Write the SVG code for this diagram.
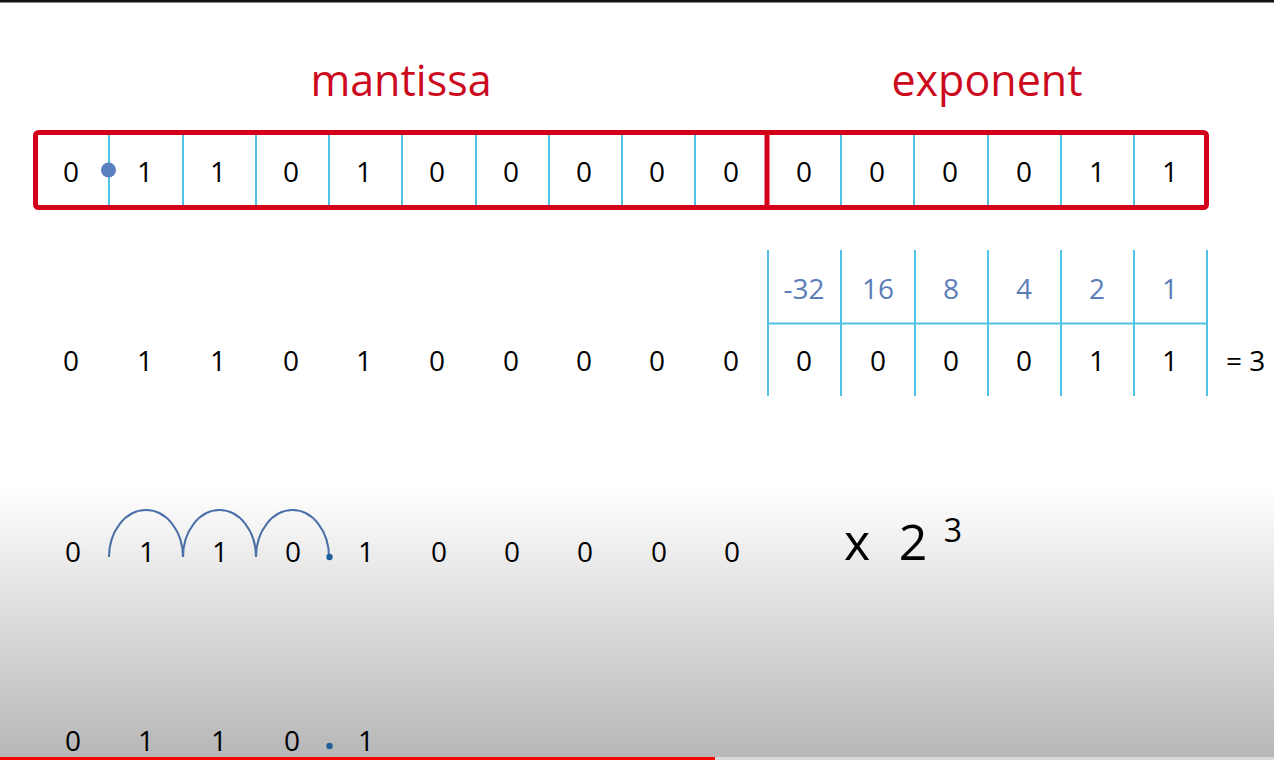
<svg xmlns="http://www.w3.org/2000/svg" width="1274" height="760" viewBox="0 0 1274 760">
<defs>
<linearGradient id="bg" x1="0" y1="0" x2="0" y2="760" gradientUnits="userSpaceOnUse">
<stop offset="0" stop-color="#ffffff"/>
<stop offset="0.64" stop-color="#ffffff"/>
<stop offset="0.79" stop-color="#e0e0e0"/>
<stop offset="1" stop-color="#b6b6b6"/>
</linearGradient>
<style>
.t{font-family:"Open Sans","Liberation Sans",sans-serif;font-size:28px;fill:#000;text-anchor:middle}
.lbl{font-family:"Open Sans","Liberation Sans",sans-serif;font-size:28px;fill:#5b7db8;text-anchor:middle}
.head{font-family:"Open Sans","Liberation Sans",sans-serif;font-size:43px;fill:#cc0a1e;text-anchor:middle}
.big{font-family:"Open Sans","Liberation Sans",sans-serif;fill:#000;text-anchor:middle}
.cell{stroke:#4fc3e6;stroke-width:2;fill:none}
.arc{stroke:#4a6fa8;stroke-width:2;fill:none}
</style>
</defs>
<rect x="0" y="0" width="1274" height="760" fill="url(#bg)"/>
<rect x="0" y="0" width="1274" height="2.5" fill="#111"/>

<g id="titles">
<text class="head" x="401" y="96">mantissa</text>
<text class="head" x="987" y="96">exponent</text>
</g>

<g id="register">
<g class="cell">
<line x1="109" y1="133" x2="109" y2="208"/>
<line x1="183" y1="133" x2="183" y2="208"/>
<line x1="256" y1="133" x2="256" y2="208"/>
<line x1="329" y1="133" x2="329" y2="208"/>
<line x1="402" y1="133" x2="402" y2="208"/>
<line x1="476" y1="133" x2="476" y2="208"/>
<line x1="549" y1="133" x2="549" y2="208"/>
<line x1="622" y1="133" x2="622" y2="208"/>
<line x1="695" y1="133" x2="695" y2="208"/>
<line x1="841" y1="133" x2="841" y2="208"/>
<line x1="914" y1="133" x2="914" y2="208"/>
<line x1="988" y1="133" x2="988" y2="208"/>
<line x1="1061" y1="133" x2="1061" y2="208"/>
<line x1="1134" y1="133" x2="1134" y2="208"/>
</g>
<rect x="35.5" y="132.5" width="1171" height="75" rx="3" fill="none" stroke="#d4001a" stroke-width="5"/>
<line x1="767" y1="132" x2="767" y2="208" stroke="#d4001a" stroke-width="5"/>
<circle cx="108.5" cy="170" r="7.5" fill="#5a80c0"/>
<g class="t">
<text x="71" y="182">0</text><text x="145" y="182">1</text><text x="218" y="182">1</text><text x="291" y="182">0</text><text x="364" y="182">1</text><text x="437" y="182">0</text><text x="511" y="182">0</text><text x="584" y="182">0</text><text x="657" y="182">0</text><text x="731" y="182">0</text>
<text x="804" y="182">0</text><text x="877" y="182">0</text><text x="950" y="182">0</text><text x="1024" y="182">0</text><text x="1097" y="182">1</text><text x="1170" y="182">1</text>
</g>
</g>

<g id="place-table">
<g class="cell">
<line x1="768" y1="250" x2="768" y2="396"/>
<line x1="841" y1="250" x2="841" y2="396"/>
<line x1="915" y1="250" x2="915" y2="396"/>
<line x1="988" y1="250" x2="988" y2="396"/>
<line x1="1061" y1="250" x2="1061" y2="396"/>
<line x1="1134" y1="250" x2="1134" y2="396"/>
<line x1="1207" y1="250" x2="1207" y2="396"/>
<line x1="768" y1="323.5" x2="1207" y2="323.5"/>
</g>
<g class="lbl">
<text x="804" y="299">-32</text><text x="878" y="299">16</text><text x="951" y="299">8</text><text x="1024" y="299">4</text><text x="1097" y="299">2</text><text x="1170" y="299">1</text>
</g>
<g class="t">
<text x="804" y="371">0</text><text x="878" y="371">0</text><text x="951" y="371">0</text><text x="1024" y="371">0</text><text x="1097" y="371">1</text><text x="1170" y="371">1</text>
<text x="1226" y="371" style="text-anchor:start">= 3</text>
</g>
</g>

<g id="row2" class="t">
<text x="71" y="371">0</text><text x="145" y="371">1</text><text x="218" y="371">1</text><text x="291" y="371">0</text><text x="364" y="371">1</text><text x="437" y="371">0</text><text x="511" y="371">0</text><text x="584" y="371">0</text><text x="657" y="371">0</text><text x="731" y="371">0</text>
</g>

<g id="row3">
<g class="t">
<text x="73" y="562">0</text><text x="147" y="562">1</text><text x="220" y="562">1</text><text x="293" y="562">0</text><text x="366" y="562">1</text><text x="439" y="562">0</text><text x="512" y="562">0</text><text x="585" y="562">0</text><text x="659" y="562">0</text><text x="732" y="562">0</text>
</g>
<g class="arc">
<path d="M109,557 A37,47 0 0 1 183,557"/>
<path d="M183,557 A36.5,47 0 0 1 256,557"/>
<path d="M256,557 A36.5,47 0 0 1 329,557"/>
</g>
<circle cx="329.5" cy="557" r="3.2" fill="#1f5f9a"/>
<text class="big" x="857" y="560" font-size="50">x</text>
<text class="big" x="913" y="560" font-size="50">2</text>
<text class="big" x="953" y="542" font-size="32">3</text>
</g>

<g id="row4">
<g class="t">
<text x="73" y="751">0</text><text x="146" y="751">1</text><text x="219" y="751">1</text><text x="292" y="751">0</text><text x="366" y="751">1</text>
</g>
<circle cx="329.5" cy="746" r="3.2" fill="#1f5f9a"/>
</g>

<rect x="0" y="757" width="715" height="3" fill="#ff0000"/>
<rect x="715" y="757" width="559" height="3" fill="#d8d8d8"/>
</svg>
